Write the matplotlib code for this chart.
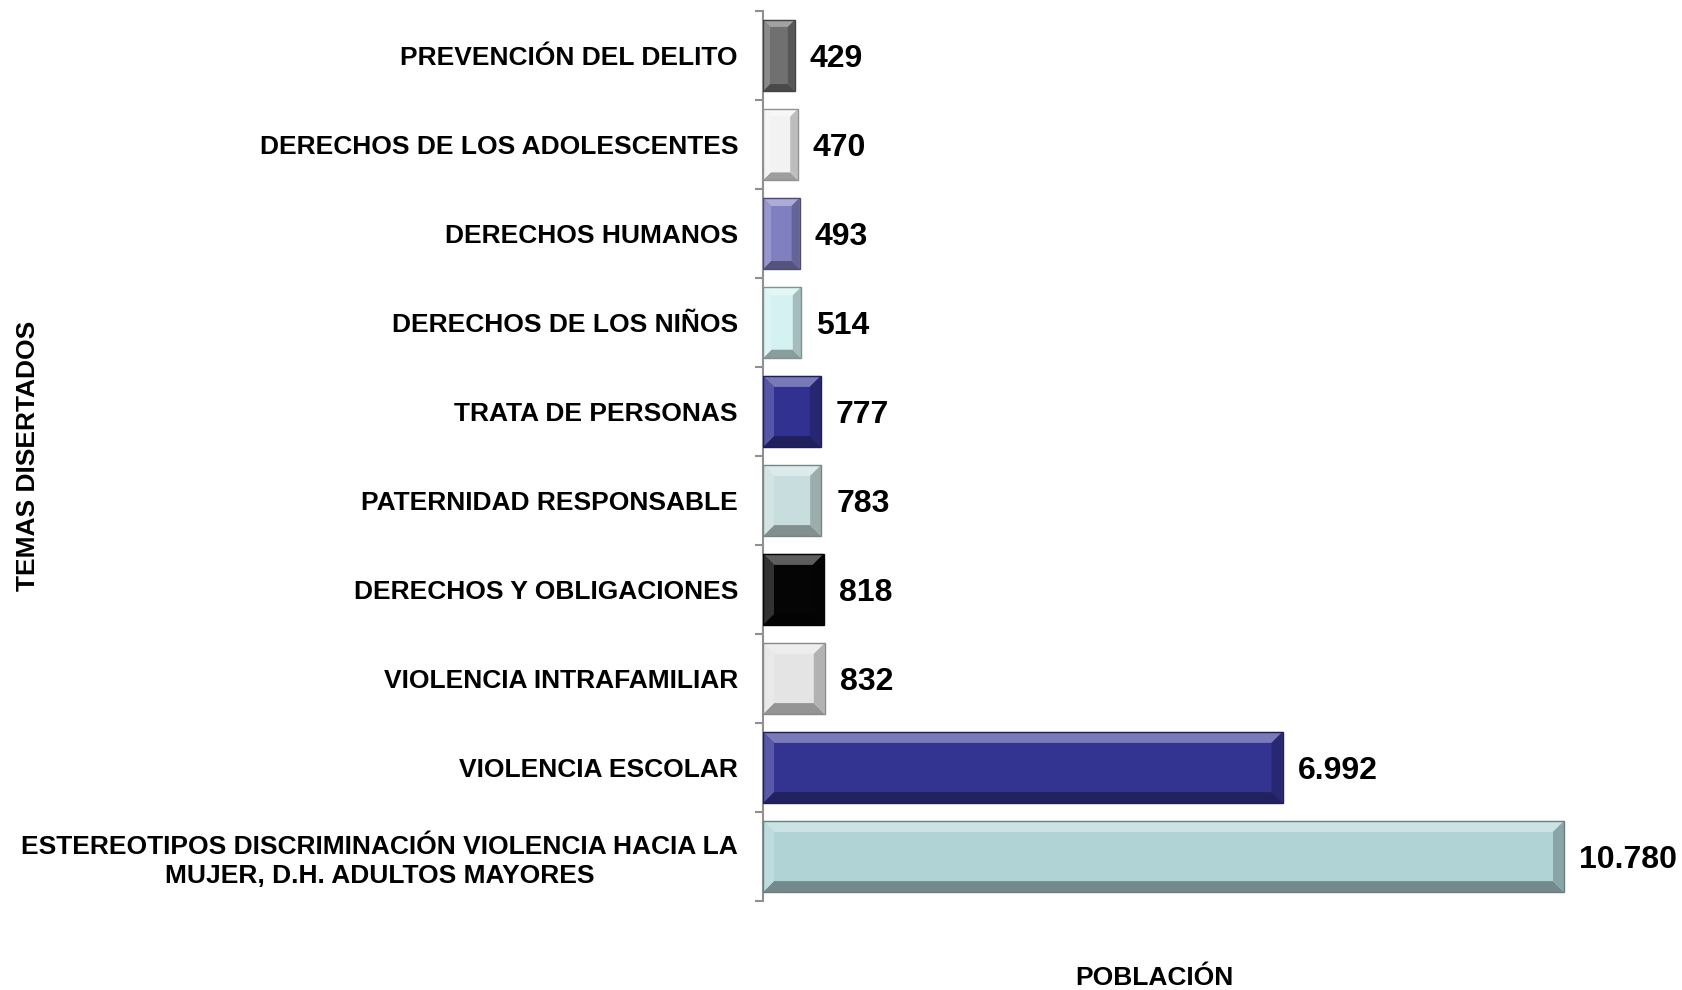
import numpy as np
import matplotlib
matplotlib.use("Agg")
import matplotlib.pyplot as plt
from matplotlib.patches import Polygon
from matplotlib.colors import to_rgb

plt.rcParams['font.family'] = ['Liberation Sans', 'DejaVu Sans']

# Data (top to bottom)
temas = [
    "PREVENCIÓN DEL DELITO",
    "DERECHOS DE LOS ADOLESCENTES",
    "DERECHOS HUMANOS",
    "DERECHOS DE LOS NIÑOS",
    "TRATA DE PERSONAS",
    "PATERNIDAD RESPONSABLE",
    "DERECHOS Y OBLIGACIONES",
    "VIOLENCIA INTRAFAMILIAR",
    "VIOLENCIA ESCOLAR",
    "ESTEREOTIPOS DISCRIMINACIÓN VIOLENCIA HACIA LA\nMUJER, D.H. ADULTOS MAYORES",
]
poblacion = [429, 470, 493, 514, 777, 783, 818, 832, 6992, 10780]
colores = ["#707070", "#f2f2f2", "#8080c0", "#d4f2f2", "#313192",
           "#c8dede", "#050505", "#e4e4e4", "#333392", "#b0d4d6"]


def mix(c, other, t):
    c = np.array(to_rgb(c))
    o = np.array(to_rgb(other))
    return tuple(c * (1 - t) + o * t)


def fmt(v):
    return f"{v:,}".replace(",", ".")


W, H, DPI = 1682, 990, 100
fig = plt.figure(figsize=(W / DPI, H / DPI), dpi=DPI)
L, R, T, B = 763, 1600, 11, 901
ax = fig.add_axes([L / W, (H - B) / H, (R - L) / W, (B - T) / H])

xmax = 10780 * (R - L) / (1564 - L)
ax.set_xlim(0, xmax)
ax.set_ylim(len(temas) - 0.5, -0.5)

y = np.arange(len(temas))
bh = 0.8
ax.barh(y, poblacion, height=bh, color=colores, edgecolor="none", zorder=2)

# bevel effect
dxp = xmax / (R - L)
dyp = len(temas) / (B - T)
for yi, v, c in zip(y, poblacion, colores):
    wpx = v / dxp
    bev = min(11, 0.22 * wpx)
    bx, by = bev * dxp, bev * dyp
    x0, x1 = 0, v
    y0, y1 = yi - bh / 2, yi + bh / 2   # y0 is top (inverted axis)
    light = "#ffffff"
    dark = "#000000"
    pieces = [
        ([(x0, y0), (x1, y0), (x1 - bx, y0 + by), (x0 + bx, y0 + by)], mix(c, light, 0.35)),
        ([(x0, y1), (x1, y1), (x1 - bx, y1 - by), (x0 + bx, y1 - by)], mix(c, dark, 0.35)),
        ([(x0, y0), (x0 + bx, y0 + by), (x0 + bx, y1 - by), (x0, y1)], mix(c, light, 0.18)),
        ([(x1, y0), (x1 - bx, y0 + by), (x1 - bx, y1 - by), (x1, y1)], mix(c, dark, 0.22)),
    ]
    for pts, col in pieces:
        ax.add_patch(Polygon(pts, closed=True, facecolor=col, edgecolor="none", zorder=3))
    ax.add_patch(Polygon([(x0, y0), (x1, y0), (x1, y1), (x0, y1)], closed=True,
                         facecolor="none", edgecolor=mix(c, dark, 0.4), lw=1.0, zorder=4))
    ax.text(v + 15 * dxp, yi + 0.04, fmt(v), va="center", ha="left",
            fontsize=23, fontweight="bold", color="black", zorder=5)

for s in ["top", "right", "bottom"]:
    ax.spines[s].set_visible(False)
ax.spines["left"].set_color("#909090")
ax.spines["left"].set_linewidth(1.5)
ax.set_xticks([])

ax.set_yticks(y)
ax.set_yticklabels(temas, fontsize=19, fontweight="bold", multialignment="center",
                   linespacing=1.25)
ax.tick_params(axis="y", which="major", length=0, pad=18)
ax.set_yticks(np.arange(-0.5, len(temas)), minor=True)
ax.tick_params(axis="y", which="minor", length=6, width=1.5, color="#909090")

ax.set_ylabel("TEMAS DISERTADOS", fontsize=19, fontweight="bold", labelpad=0)
ax.yaxis.set_label_coords(-(L - 40) / (R - L), 0.5)
fig.text(1154 / W, 1 - 978 / H, "POBLACIÓN", ha="center", va="center",
         fontsize=19, fontweight="bold")

fig.savefig("out.png", dpi=DPI)
